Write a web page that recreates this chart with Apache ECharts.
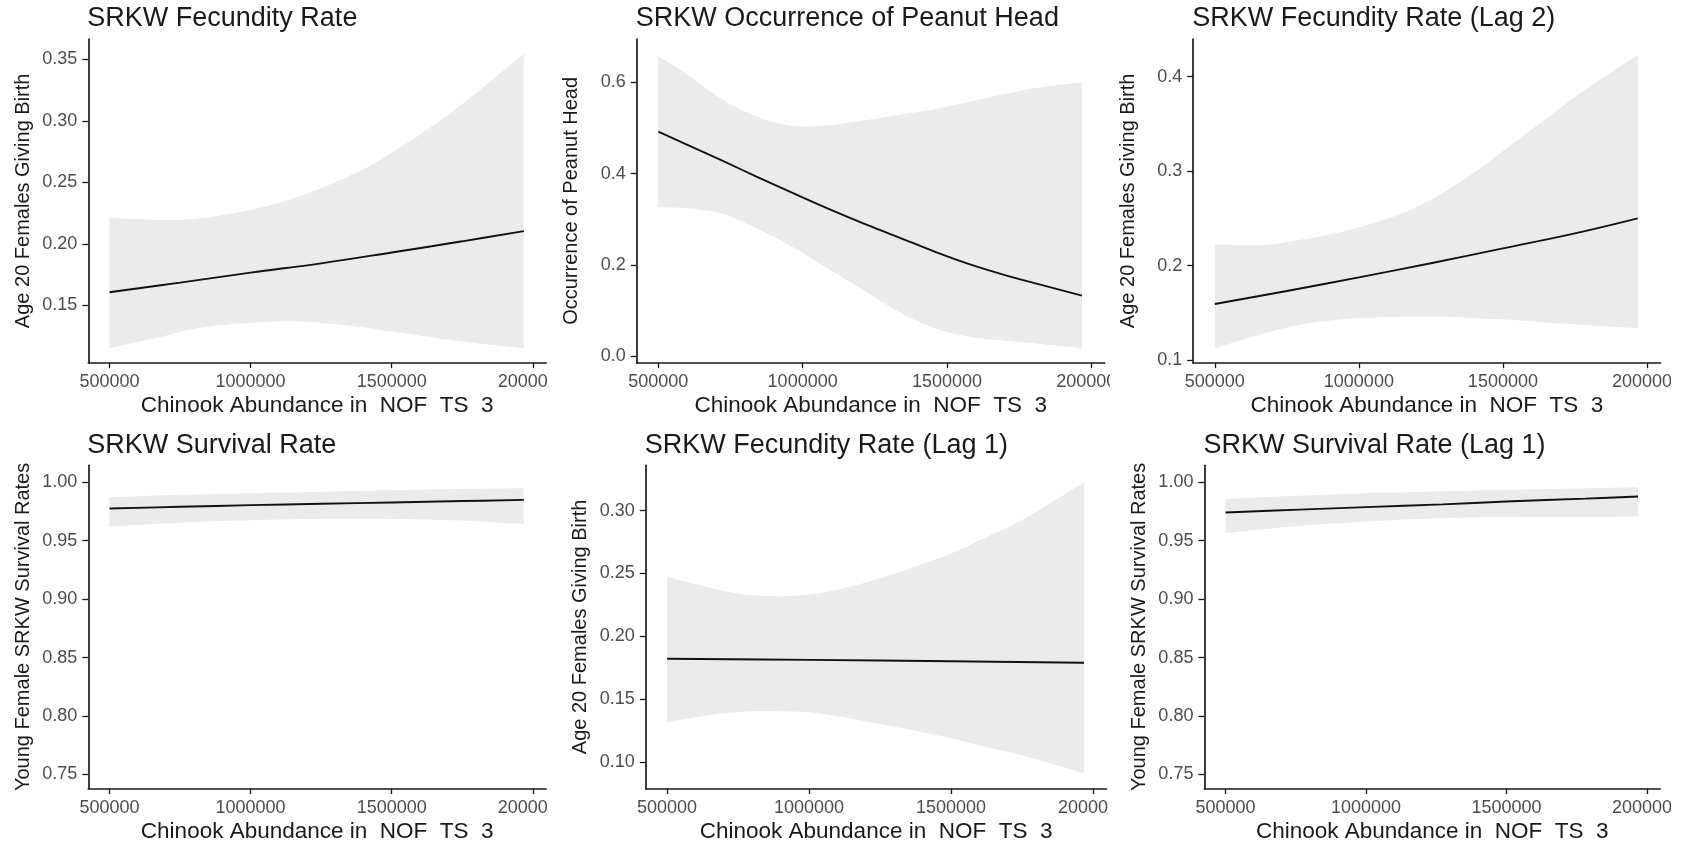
<!DOCTYPE html>
<html>
<head>
<meta charset="utf-8">
<script src="https://cdn.jsdelivr.net/npm/echarts@6/dist/echarts.min.js"></script>
<style>
html,body{margin:0;padding:0;background:#fff;}
#chart{width:1685px;height:844px;}
</style>
</head>
<body>
<div id="chart"></div>
<script>
// ---------- data ----------
const xTicks = [500000, 1000000, 1500000, 2000000];
const xAxisTitle = 'Chinook Abundance in  NOF  TS  3';

const titles = [
  'SRKW Fecundity Rate',
  'SRKW Occurrence of Peanut Head',
  'SRKW Fecundity Rate (Lag 2)',
  'SRKW Survival Rate',
  'SRKW Fecundity Rate (Lag 1)',
  'SRKW Survival Rate (Lag 1)'
];
const yTitles = [
  'Age 20 Females Giving Birth',
  'Occurrence of Peanut Head',
  'Age 20 Females Giving Birth',
  'Young Female SRKW Survival Rates',
  'Age 20 Females Giving Birth',
  'Young Female SRKW Survival Rates'
];

const yTicks1 = [0.15, 0.20, 0.25, 0.30, 0.35];
const yTicks2 = [0.0, 0.2, 0.4, 0.6];
const yTicks3 = [0.1, 0.2, 0.3, 0.4];
const yTicks4 = [0.75, 0.80, 0.85, 0.90, 0.95, 1.00];
const yTicks5 = [0.10, 0.15, 0.20, 0.25, 0.30];
const yTicks6 = [0.75, 0.80, 0.85, 0.90, 0.95, 1.00];

// Panel 1: SRKW Fecundity Rate
const p1BandX = [500000, 685000, 810000, 1000000, 1187000, 1376000, 1500000, 1627000, 1752000, 1968000];
const p1Upper = [0.221, 0.2194, 0.2205, 0.2275, 0.2397, 0.258, 0.274, 0.293, 0.314, 0.3543];
const p1Lower = [0.115, 0.1245, 0.1313, 0.1359, 0.1367, 0.1327, 0.1286, 0.1245, 0.1205, 0.115];
const p1FitX = [500000, 750000, 1000000, 1250000, 1500000, 1750000, 1968000];
const p1Fit = [0.1606, 0.1684, 0.1765, 0.1841, 0.1929, 0.2020, 0.2103];

// Panel 2: SRKW Occurrence of Peanut Head
const p2BandX = [500000, 593000, 716000, 840000, 963000, 1086000, 1210000, 1333000, 1457000, 1580000, 1704000, 1827000, 1968000];
const p2Upper = [0.657, 0.6205, 0.565, 0.5254, 0.5049, 0.506, 0.5166, 0.529, 0.5415, 0.5583, 0.5751, 0.5898, 0.600];
const p2Lower = [0.3263, 0.3241, 0.3131, 0.2802, 0.2400, 0.1924, 0.1448, 0.0973, 0.0607, 0.0424, 0.0336, 0.0263, 0.0168];
const p2FitX = p2BandX;
const p2Fit = [0.4924, 0.4653, 0.4302, 0.3936, 0.3585, 0.3241, 0.2912, 0.2604, 0.2290, 0.2010, 0.1770, 0.1560, 0.1324];

// Panel 3: SRKW Fecundity Rate (Lag 2)
const p3BandX = [500000, 671000, 794000, 918000, 1042000, 1165000, 1289000, 1413000, 1536000, 1660000, 1784000, 1968000];
const p3Upper = [0.2218, 0.2218, 0.2271, 0.2341, 0.244, 0.2571, 0.2765, 0.3012, 0.3294, 0.3577, 0.3859, 0.423];
const p3Lower = [0.1124, 0.1282, 0.1371, 0.1424, 0.1448, 0.1459, 0.1459, 0.1441, 0.1424, 0.1395, 0.1371, 0.1335];
const p3FitX = [500000, 750000, 1000000, 1250000, 1500000, 1750000, 1968000];
const p3Fit = [0.1593, 0.1730, 0.1875, 0.2024, 0.2182, 0.2341, 0.2500];

// Panel 4: SRKW Survival Rate
const p4BandX = [500000, 750000, 1000000, 1250000, 1500000, 1750000, 1968000];
const p4Upper = [0.9872, 0.9892, 0.9904, 0.9918, 0.9932, 0.9943, 0.9949];
const p4Lower = [0.9622, 0.9655, 0.9675, 0.9687, 0.9686, 0.9672, 0.9644];
const p4FitX = p4BandX;
const p4Fit = [0.9775, 0.9790, 0.9804, 0.9816, 0.9827, 0.9839, 0.9849];

// Panel 5: SRKW Fecundity Rate (Lag 1)
const p5BandX = [500000, 626000, 751000, 877000, 1003000, 1129000, 1254000, 1380000, 1506000, 1632000, 1757000, 1968000];
const p5Upper = [0.2473, 0.2399, 0.234, 0.2319, 0.2332, 0.2385, 0.2465, 0.2558, 0.2664, 0.2796, 0.2934, 0.3225];
const p5Lower = [0.1313, 0.1366, 0.1398, 0.1403, 0.1393, 0.1353, 0.13, 0.1246, 0.1185, 0.1114, 0.1048, 0.091];
const p5FitX = [500000, 1000000, 1500000, 1968000];
const p5Fit = [0.1821, 0.1812, 0.1801, 0.1789];

// Panel 6: SRKW Survival Rate (Lag 1)
const p6BandX = [500000, 763000, 1000000, 1272000, 1499000, 1781000, 1968000];
const p6Upper = [0.9858, 0.9885, 0.9906, 0.9922, 0.9935, 0.9948, 0.9958];
const p6Lower = [0.9565, 0.9627, 0.9664, 0.9693, 0.9701, 0.9704, 0.9707];
const p6FitX = p6BandX;
const p6Fit = [0.9741, 0.9766, 0.9787, 0.9811, 0.9835, 0.9860, 0.9878];

// ---------- layout ----------
const FONT = 'Liberation Sans, Arial, sans-serif';
const X_MIN = 425000, X_MAX = 2047000;

const panels = [
  {band: [p1BandX, p1Lower, p1Upper], fit: [p1FitX, p1Fit], yTicks: yTicks1, dec: 2, yMin: 0.1033, yMax: 0.3665,
   grid: {left: 88.3, top: 39, width: 457.8, height: 323.7}},
  {band: [p2BandX, p2Lower, p2Upper], fit: [p2FitX, p2Fit], yTicks: yTicks2, dec: 1, yMin: -0.0147, yMax: 0.6955,
   grid: {left: 636.7, top: 39, width: 468.1, height: 323.7}},
  {band: [p3BandX, p3Lower, p3Upper], fit: [p3FitX, p3Fit], yTicks: yTicks3, dec: 1, yMin: 0.0971, yMax: 0.4399,
   grid: {left: 1193.2, top: 39, width: 472.3, height: 323.7}},
  {band: [p4BandX, p4Lower, p4Upper], fit: [p4FitX, p4Fit], yTicks: yTicks4, dec: 2, yMin: 0.738, yMax: 1.0145,
   grid: {left: 88.3, top: 465.3, width: 457.8, height: 324}},
  {band: [p5BandX, p5Lower, p5Upper], fit: [p5FitX, p5Fit], yTicks: yTicks5, dec: 2, yMin: 0.0789, yMax: 0.336,
   grid: {left: 645.8, top: 465.3, width: 460.6, height: 324}},
  {band: [p6BandX, p6Lower, p6Upper], fit: [p6FitX, p6Fit], yTicks: yTicks6, dec: 2, yMin: 0.738, yMax: 1.0145,
   grid: {left: 1204.4, top: 465.3, width: 459.3, height: 324}}
];

// Catmull-Rom smoothing of pixel points (for drawing the ribbon edges)
function smoothPts(pts, steps) {
  const out = [];
  const n = pts.length;
  for (let i = 0; i < n - 1; i++) {
    const p0 = pts[Math.max(0, i - 1)], p1 = pts[i], p2 = pts[i + 1], p3 = pts[Math.min(n - 1, i + 2)];
    for (let s = 0; s < steps; s++) {
      const t = s / steps, t2 = t * t, t3 = t2 * t;
      const f = (a, b, c, d) => 0.5 * ((2 * b) + (-a + c) * t + (2 * a - 5 * b + 4 * c - d) * t2 + (-a + 3 * b - 3 * c + d) * t3);
      out.push([f(p0[0], p1[0], p2[0], p3[0]), f(p0[1], p1[1], p2[1], p3[1])]);
    }
  }
  out.push(pts[n - 1]);
  return out;
}

const grid = [], xAxis = [], yAxis = [], series = [], title = [];
const AXIS_COLOR = '#1a1a1a';

panels.forEach((p, i) => {
  grid.push(Object.assign({containLabel: false}, p.grid));
  title.push({
    text: titles[i],
    left: p.grid.left - 1,
    top: i < 3 ? 5 : 432.5,
    padding: 0,
    textStyle: {fontFamily: FONT, fontSize: 27, fontWeight: 'normal', color: '#1a1a1a'}
  });
  xAxis.push({
    type: 'value', gridIndex: i, min: X_MIN, max: X_MAX,
    name: xAxisTitle, nameLocation: 'middle', nameGap: 31.5,
    nameTextStyle: {fontFamily: FONT, fontSize: 22.5, color: '#1a1a1a'},
    axisLine: {show: true, onZero: false, lineStyle: {color: AXIS_COLOR, width: 1.7}},
    axisTick: {show: true, length: 5.5, customValues: xTicks, lineStyle: {color: AXIS_COLOR, width: 1.3}},
    axisLabel: {show: true, customValues: xTicks, margin: 10.5, fontFamily: FONT, fontSize: 18, color: '#4d4d4d',
      formatter: v => String(v)},
    splitLine: {show: false}
  });
  yAxis.push({
    type: 'value', gridIndex: i, min: p.yMin, max: p.yMax,
    name: yTitles[i], nameLocation: 'middle', nameGap: 55, nameRotate: 90,
    nameTextStyle: {fontFamily: FONT, fontSize: 20, color: '#1a1a1a'},
    axisLine: {show: true, onZero: false, lineStyle: {color: AXIS_COLOR, width: 1.7}},
    axisTick: {show: true, length: 6, customValues: p.yTicks, lineStyle: {color: AXIS_COLOR, width: 1.3}},
    axisLabel: {show: true, customValues: p.yTicks, margin: 11, fontFamily: FONT, fontSize: 18, color: '#4d4d4d',
      formatter: v => Number(v).toFixed(p.dec)},
    splitLine: {show: false}
  });
  const [bx, lo, up] = p.band;
  series.push({
    type: 'custom', xAxisIndex: i, yAxisIndex: i, silent: true, z: 1, clip: false,
    data: bx.map((x, k) => [x, lo[k], up[k]]),
    encode: {x: 0, y: [1, 2]},
    renderItem: (params, api) => {
      if (params.dataIndex !== 0) return null;
      const upPx = bx.map((x, k) => api.coord([x, up[k]]));
      const loPx = bx.map((x, k) => api.coord([x, lo[k]]));
      const pts = smoothPts(upPx, 10).concat(smoothPts(loPx, 10).reverse());
      return {type: 'polygon', shape: {points: pts}, style: {fill: '#ebebeb', stroke: null}};
    }
  });
  const [fx, fy] = p.fit;
  series.push({
    type: 'line', xAxisIndex: i, yAxisIndex: i, symbol: 'none', smooth: 0.4,
    lineStyle: {color: '#111', width: 1.9}, z: 3,
    data: fx.map((x, k) => [x, fy[k]])
  });
});

// white masks reproducing the clipped "2000000" labels at each panel edge
const masks = [
  [548, 368, 22, 28], [1110, 368, 20, 28], [1671, 368, 14, 28],
  [548, 795, 22, 28], [1108, 795, 26, 28], [1671, 795, 14, 28]
].map(r => ({type: 'rect', z: 100, shape: {x: r[0], y: r[1], width: r[2], height: r[3]}, style: {fill: '#fff'}}));

const chart = echarts.init(document.getElementById('chart'), null, {renderer: 'canvas'});
chart.setOption({
  backgroundColor: '#fff',
  animation: false,
  title, grid, xAxis, yAxis, series,
  graphic: masks
});
</script>
</body>
</html>
